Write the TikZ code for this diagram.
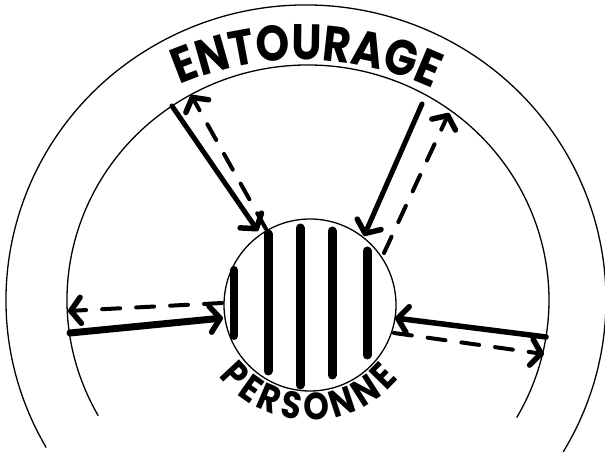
\documentclass[tikz,border=0pt]{standalone}
\usepackage{fontspec}
\newfontfamily\letfont{Poppins}[FakeStretch=0.86]
\usetikzlibrary{arrows.meta,decorations.text}
\begin{document}
\begin{tikzpicture}[x=1pt,y=1pt,
  ring/.style={line width=1.3pt},
  stripe/.style={line width=9pt,line cap=round},
  tipv/.style={-{Straight Barb[length=10pt,width=26pt,line width=5.5pt,round]}},
  solidarrow/.style={line width=5pt,line cap=round,tipv},
  dasharrow/.style={line width=4pt,line cap=round,dash pattern=on 18pt off 16pt,tipv},
]
\useasboundingbox (0,0) rectangle (605,458);
% outer and inner arcs
\draw[ring] (306,158) ++(210:300 and 295) arc[start angle=210,end angle=-31,x radius=300,y radius=295];
\draw[ring] (308,158) ++(209.5:241 and 235) arc[start angle=209.5,end angle=-30,x radius=241,y radius=235];
% person circle
\node[circle,draw,ring,minimum size=172pt,inner sep=0pt] (pers) at (310,153) {};
% stripes
\draw[stripe,line width=8pt] (234,122) -- (234,188);
\draw[stripe] (268,87) -- (268,224);
\draw[stripe] (300,73) -- (300,230);
\draw[stripe] (332,83) -- (332,227);
\draw[stripe] (367,103) -- (367,207);
% arrow end points
\coordinate (ulA) at (172,352);
\coordinate (ulB) at (258,227);
\coordinate (ulC) at (266,229);
\coordinate (ulD) at (191,363);
\coordinate (urA) at (422,354);
\coordinate (urB) at (364,222);
\coordinate (urC) at (384,205);
\coordinate (urD) at (449,345);
\coordinate (lA) at (222,155);
\coordinate (lB) at (68,147);
\coordinate (lC) at (70,125);
\coordinate (lD) at (223,140);
\coordinate (rA) at (546,121);
\coordinate (rB) at (395,140);
\coordinate (rC) at (394,125);
\coordinate (rD) at (544,104);
% arrows
\draw[solidarrow] (ulA) -- (ulB);
\draw[dasharrow] (ulC) -- (ulD);
\draw[solidarrow] (urA) -- (urB);
\draw[dasharrow] (urC) -- (urD);
\draw[dasharrow] (lA) -- (lB);
\draw[solidarrow,line width=7pt] (lC) -- (lD);
\draw[solidarrow,line width=5.5pt] (rA) -- (rB);
\draw[dasharrow] (rC) -- (rD);
% curved labels
\path[decorate,decoration={text along path,text align=fit to path,
  text={|\letfont\bfseries\fontsize{50}{50}\selectfont|ENTOURAGE}}]
  (179.9,372.9) arc[start angle=113.2,end angle=66.8,radius=310];
\path[decorate,decoration={text along path,text align=fit to path,
  text={|\letfont\bfseries\fontsize{38}{38}\selectfont|PERSONNE}}]
  (218.7,82.2) arc[start angle=218,end angle=320,radius=116];
\end{tikzpicture}
\end{document}
